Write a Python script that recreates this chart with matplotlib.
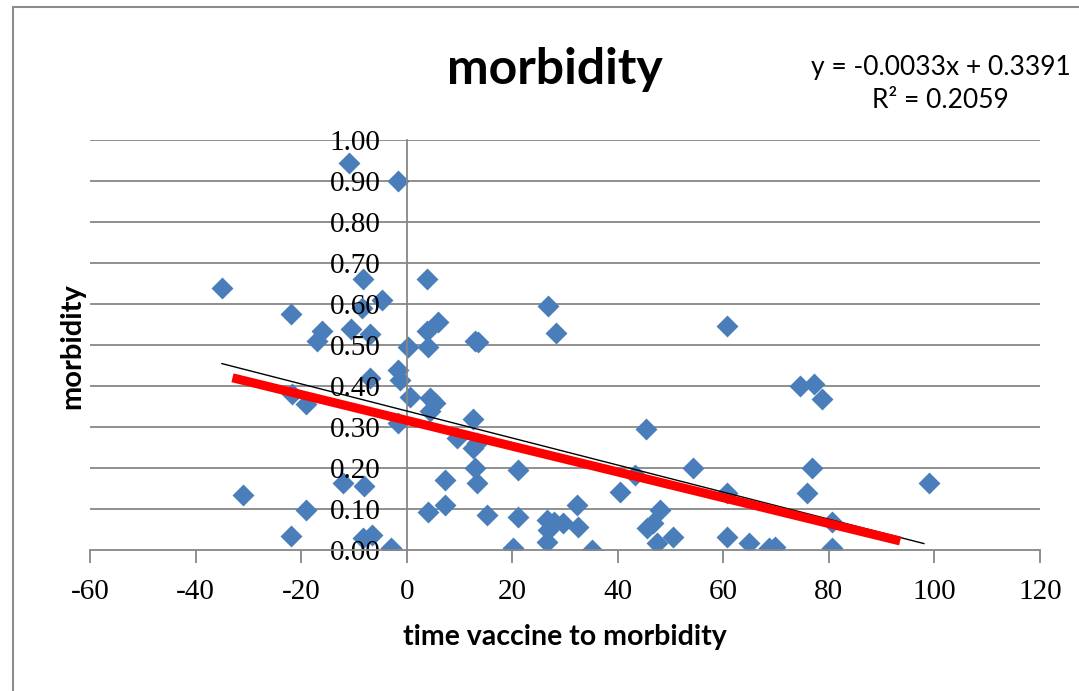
import matplotlib.pyplot as plt
from matplotlib.patches import Rectangle
import numpy as np

plt.rcParams['axes.unicode_minus'] = False

# scatter data: days from vaccine to morbidity vs morbidity rate
time_x = [-35, -31, -22, -22, -21.7, -19, -19, -17, -16, -12,
          -11, -10.5, -8.3, -8.5, -4.6, -7, -7, -8, -8.3, -6.5,
          -3, -1.7, -1.7, -1.3, -1.7, 0.2, 0.6, 3.8, 4, 3.8,
          5.9, 4.4, 5.3, 4.4, 7.2, 4, 7.2, 9.5, 12.9, 13.5,
          12.6, 13.3, 12.6, 12.9, 13.3, 15.2,
          21.1, 21.1, 20.1, 26.7, 28.2, 26.5, 26.7, 26.5, 28, 29.6,
          32.2, 32.4, 35.2, 45.3, 40.4, 43.2, 48, 45.5, 46.6, 47.4,
          50.4, 54.2,
          60.6, 74.5, 77.1, 78.7, 76.8, 75.8, 99, 60.6, 60.6, 64.8,
          68.6, 69.7, 80.6, 80.6]
morbidity_y = [0.64, 0.135, 0.575, 0.035, 0.38, 0.355, 0.097, 0.51, 0.535, 0.163,
               0.945, 0.54, 0.66, 0.59, 0.61, 0.527, 0.42, 0.155, 0.03, 0.037,
               0.005, 0.90, 0.44, 0.415, 0.31, 0.495, 0.373, 0.66, 0.495, 0.535,
               0.555, 0.37, 0.358, 0.34, 0.17, 0.093, 0.11, 0.272, 0.51, 0.507,
               0.32, 0.26, 0.248, 0.20, 0.163, 0.085,
               0.195, 0.08, 0.005, 0.595, 0.53, 0.073, 0.049, 0.02, 0.068, 0.066,
               0.11, 0.056, 0.0, 0.296, 0.141, 0.182, 0.097, 0.053, 0.065, 0.017,
               0.032, 0.20,
               0.546, 0.40, 0.405, 0.369, 0.20, 0.138, 0.163, 0.138, 0.032, 0.017,
               0.005, 0.007, 0.068, 0.005]

# linear trendline from the chart label
slope = -0.0033
intercept = 0.3391
trend_range = [-35, 98]

# hand drawn red line
red_x = [-33, 93.5]
red_y = [0.42, 0.022]

x_ticks = [-60, -40, -20, 0, 20, 40, 60, 80, 100, 120]
y_ticks = [0.0, 0.1, 0.2, 0.3, 0.4, 0.5, 0.6, 0.7, 0.8, 0.9, 1.0]

fig = plt.figure(figsize=(10.79, 6.91), dpi=100)
ax = fig.add_axes([90/1079, 141/691, 950/1079, 410/691])

# outer chart frame
fig.patches.append(Rectangle((13/1079, -0.1), 1.2, 1.1 - 7/691, transform=fig.transFigure,
                             fill=False, edgecolor="#8c8c8c", linewidth=1.5))

grid_col = "#878787"
for yv in y_ticks[1:]:
    ax.axhline(yv, color=grid_col, linewidth=1.3, zorder=0)

ax.scatter(time_x, morbidity_y, marker='D', s=125, color="#4a7ebb", linewidths=0, zorder=1)

tx = np.array(trend_range)
ax.plot(tx, slope*tx + intercept, color="black", linewidth=1.0, zorder=2.6)
ax.plot(red_x, red_y, color="#ff0000", linewidth=6.5, solid_capstyle='butt', zorder=3)

ax.set_xlim(-60, 120)
ax.set_ylim(0, 1)

ax.spines['left'].set_position(('data', 0))
ax.spines['right'].set_visible(False)
ax.spines['top'].set_visible(False)
ax.spines['left'].set_color(grid_col)
ax.spines['bottom'].set_color(grid_col)
ax.spines['left'].set_linewidth(1.3)
ax.spines['bottom'].set_linewidth(1.3)

ax.set_xticks(x_ticks)
ax.set_yticks(y_ticks)
ax.set_yticklabels([f"{v:.2f}" for v in y_ticks])
ax.tick_params(axis='x', direction='out', length=9, width=1.3, color=grid_col, pad=12)
ax.tick_params(axis='y', length=0, pad=19)
for lab in ax.get_xticklabels() + ax.get_yticklabels():
    lab.set_family("Liberation Serif")
    lab.set_fontsize(21)

fig.text(555/1079, 1 - 70/691, "morbidity", ha='center', va='center',
         family="Lato", fontweight='bold', fontsize=36)
fig.text(941/1079, 1 - 67/691, "y = -0.0033x + 0.3391", ha='center', va='center',
         family="Lato", fontsize=19)
fig.text(940/1079, 1 - 100/691, "R² = 0.2059", ha='center', va='center',
         family="Lato", fontsize=19)
fig.text(565/1079, 1 - 637/691, "time vaccine to morbidity", ha='center', va='center',
         family="Lato", fontweight='bold', fontsize=20.5)
fig.text(72/1079, 1 - 346/691, "morbidity", ha='center', va='center', rotation=90,
         family="Lato", fontweight='bold', fontsize=21)

fig.savefig("out.png", dpi=100)
